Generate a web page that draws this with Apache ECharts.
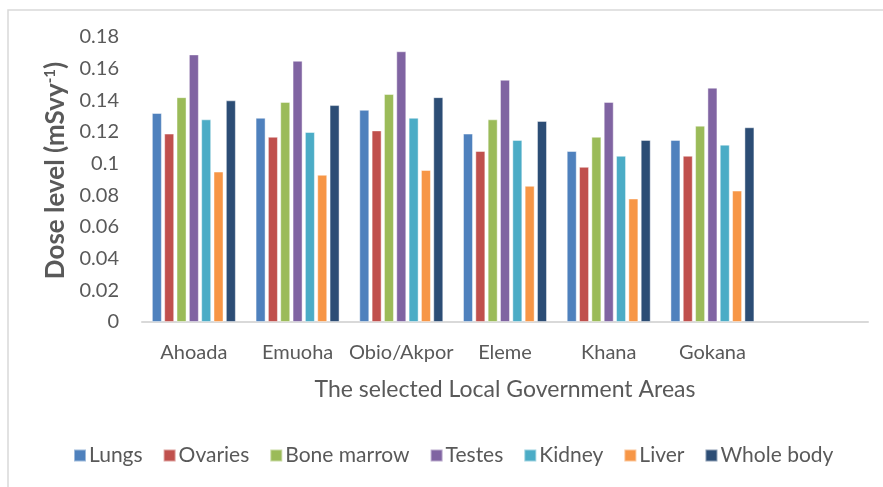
<!DOCTYPE html>
<html>
<head>
<meta charset="utf-8">
<script src="https://cdn.jsdelivr.net/npm/echarts@6/dist/echarts.min.js"></script>
<style>
  html, body { margin: 0; padding: 0; background: #fff; }
  #chart { width: 883px; height: 487px; }
</style>
</head>
<body>
<div id="chart"></div>
<script>
// categories (the last one is empty in the original chart)
var areas = ['Ahoada', 'Emuoha', 'Obio/Akpor', 'Eleme', 'Khana', 'Gokana', ''];

// dose level per organ, mSv/y
var lungs      = [0.132, 0.129, 0.134, 0.119, 0.108, 0.115];
var ovaries    = [0.119, 0.117, 0.121, 0.108, 0.098, 0.105];
var boneMarrow = [0.142, 0.139, 0.144, 0.128, 0.117, 0.124];
var testes     = [0.169, 0.165, 0.171, 0.153, 0.139, 0.148];
var kidney     = [0.128, 0.120, 0.129, 0.115, 0.105, 0.112];
var liver      = [0.095, 0.093, 0.096, 0.086, 0.078, 0.083];
var wholeBody  = [0.140, 0.137, 0.142, 0.127, 0.115, 0.123];

var seriesNames = ['Lungs', 'Ovaries', 'Bone marrow', 'Testes', 'Kidney', 'Liver', 'Whole body'];
var seriesData = [lungs, ovaries, boneMarrow, testes, kidney, liver, wholeBody];
var colors = ['#4f81bd', '#c0504d', '#9bbb59', '#8064a2', '#4bacc6', '#f79646', '#2c4d75'];

var font = 'Lato';
var textColor = '#595959';

var chart = echarts.init(document.getElementById('chart'));

var series = seriesNames.map(function (name, i) {
  return {
    name: name,
    type: 'bar',
    data: seriesData[i],
    barGap: '23%',
    barCategoryGap: '19%',
    itemStyle: {
      color: colors[i],
      borderColor: 'rgba(255,255,255,0.45)',
      borderWidth: 1
    }
  };
});

chart.setOption({
  color: colors,
  animation: false,
  // light frame of the chart area (only top and left edges are visible)
  graphic: [{
    type: 'rect',
    shape: { x: 8, y: 10, width: 1000, height: 600 },
    style: { fill: 'none', stroke: '#d9d9d9', lineWidth: 1.5 },
    silent: true
  }],
  grid: {
    left: 142,
    right: 15,
    top: 37,
    bottom: 165
  },
  legend: {
    data: seriesNames,
    left: 73,
    top: 445,
    padding: 0,
    itemWidth: 12,
    itemHeight: 12,
    itemGap: 20,
    icon: 'rect',
    textStyle: { fontFamily: font, fontSize: 21, color: textColor, padding: [0, 0, 0, -2] }
  },
  xAxis: {
    type: 'category',
    data: areas,
    name: 'The selected Local Government Areas',
    nameLocation: 'middle',
    nameGap: 56,
    nameTextStyle: { fontFamily: font, fontSize: 23, color: textColor },
    axisLine: { lineStyle: { color: '#d9d9d9', width: 2 } },
    axisTick: { show: false },
    axisLabel: { fontFamily: font, fontSize: 20, color: textColor, margin: 21, interval: 0 }
  },
  yAxis: {
    type: 'value',
    min: 0,
    max: 0.18,
    interval: 0.02,
    name: 'Dose level (mSvy{sup|-1})',
    nameLocation: 'middle',
    nameRotate: 90,
    nameGap: 71,
    nameTextStyle: {
      fontFamily: font,
      fontSize: 26,
      fontWeight: 'bold',
      color: textColor,
      padding: [0, 0, 0, 18],
      rich: {
        sup: {
          fontFamily: font,
          fontSize: 15,
          fontWeight: 'bold',
          color: textColor,
          verticalAlign: 'top',
          padding: [0, 0, 9, 0]
        }
      }
    },
    splitLine: { show: false },
    axisLine: { show: false },
    axisTick: { show: false },
    axisLabel: {
      fontFamily: font,
      fontSize: 20,
      color: textColor,
      margin: 23,
      formatter: function (v) { return String(+v.toFixed(2)); }
    }
  },
  series: series
});
</script>
</body>
</html>
